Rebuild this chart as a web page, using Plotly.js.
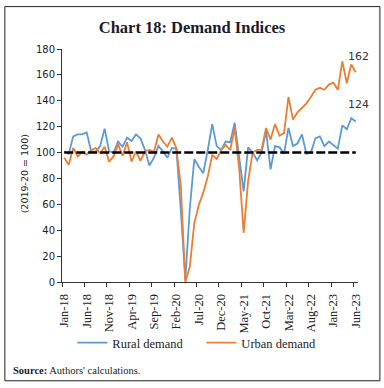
<!DOCTYPE html>
<html>
<head>
<meta charset="utf-8">
<script src="https://cdn.plot.ly/plotly-3.0.1.min.js"></script>
<style>html,body{margin:0;padding:0;background:#fff;}#chart{width:384px;height:388px;}</style>
</head>
<body>
<div id="chart"></div>
<script>
// Months Jan-18 .. Jun-23 (66 months)
const months = [
 "Jan-18","Feb-18","Mar-18","Apr-18","May-18","Jun-18","Jul-18","Aug-18","Sep-18","Oct-18","Nov-18","Dec-18",
 "Jan-19","Feb-19","Mar-19","Apr-19","May-19","Jun-19","Jul-19","Aug-19","Sep-19","Oct-19","Nov-19","Dec-19",
 "Jan-20","Feb-20","Mar-20","Apr-20","May-20","Jun-20","Jul-20","Aug-20","Sep-20","Oct-20","Nov-20","Dec-20",
 "Jan-21","Feb-21","Mar-21","Apr-21","May-21","Jun-21","Jul-21","Aug-21","Sep-21","Oct-21","Nov-21","Dec-21",
 "Jan-22","Feb-22","Mar-22","Apr-22","May-22","Jun-22","Jul-22","Aug-22","Sep-22","Oct-22","Nov-22","Dec-22",
 "Jan-23","Feb-23","Mar-23","Apr-23","May-23","Jun-23"];

const rural = [
 101, 99, 112.5, 114, 114, 115.5, 101, 100.5, 105, 118.5, 101, 100,
 108.5, 104.5, 111.5, 109, 114, 111, 102, 90, 96, 105, 101, 96,
 103.5, 103, 55, 2, 57, 95, 89, 84, 102, 122, 105, 102,
 108.5, 108, 123, 97, 70, 104, 100, 94, 100, 117, 87, 105,
 104, 99, 119, 105, 107, 114, 99, 100, 111, 112.5, 105, 108.5,
 106, 103, 121, 118, 126.5, 124];

const urban = [
 96, 90.5, 103.5, 97, 100.5, 98.5, 102, 103.5, 99.5, 104.5, 93, 97,
 106.5, 97.5, 108, 93, 101, 93.5, 101, 102, 100.5, 114, 108.5, 104.5,
 111.5, 103.5, 74, 0, 12, 45.5, 59.5, 69, 81.5, 98, 95, 102,
 106, 102, 119, 88, 38, 78, 100, 102, 102, 119, 110, 122,
 113, 115, 143, 125.5, 131, 134.5, 138, 143, 148.5, 150, 148.5, 152.5,
 154, 148.5, 170.5, 153.5, 168, 162];

const baseline = months.map(() => 100);

const yTicks = [0,20,40,60,80,100,120,140,160,180];
const labelIdx = [0,5,10,15,20,25,30,35,40,45,50,55,60,65];
const lastRural = rural[rural.length-1];
const lastUrban = urban[urban.length-1];

const idx = months.map((_, i) => i);

const traces = [
 {x: idx, y: rural, type: 'scatter', mode: 'lines', name: 'Rural demand',
  line: {color: '#5B9BD5', width: 1.8}, hoverinfo: 'skip'},
 {x: idx, y: urban, type: 'scatter', mode: 'lines', name: 'Urban demand',
  line: {color: '#ED7D31', width: 1.8}, hoverinfo: 'skip'},
 {x: idx, y: baseline, type: 'scatter', mode: 'lines', showlegend: false,
  line: {color: '#000000', width: 2.5, dash: '9px,3px'}, hoverinfo: 'skip'}
];

const serif = 'Liberation Serif, DejaVu Serif, serif';
const sans = 'DejaVu Sans, Verdana, sans-serif';

const layout = {
 width: 384, height: 388,
 margin: {l: 62, r: 26, t: 49, b: 106, pad: 0},
 paper_bgcolor: '#ffffff', plot_bgcolor: '#ffffff',
 title: {text: '<b>Chart 18: Demand Indices</b>', font: {family: serif, size: 16.5, color: '#1a1a2a'},
   x: 0.5, xanchor: 'center', y: 0.930, yanchor: 'middle', xref: 'container', yref: 'container'},
 showlegend: true,
 legend: {orientation: 'h', x: 0.035, xanchor: 'left', y: -0.262, yanchor: 'middle',
   font: {family: serif, size: 12.5, color: '#222'}, itemwidth: 30, entrywidth: 84, entrywidthmode: 'pixels',
   tracegroupgap: 0, bgcolor: 'rgba(0,0,0,0)'},
 xaxis: {
   range: [-0.5, 65.5], showgrid: false, zeroline: false,
   showline: true, linecolor: '#333', linewidth: 1,
   tickmode: 'array', tickvals: labelIdx, ticktext: labelIdx.map(i => months[i]),
   ticks: '', tickangle: -90, ticklabelstandoff: 6,
   tickfont: {family: serif, size: 12.5, color: '#222'},
   minor: {tickmode: 'array', tickvals: labelIdx.map(i => i - 0.5), ticks: 'outside', ticklen: 4,
           tickcolor: '#333', tickwidth: 1, showgrid: false}
 },
 yaxis: {
   range: [0, 180], tickmode: 'array', tickvals: yTicks, showgrid: false, zeroline: false,
   showline: true, linecolor: '#333', linewidth: 1,
   ticks: 'outside', ticklen: 4, tickcolor: '#333',
   tickfont: {family: sans, size: 10, color: '#222'}
 },
 shapes: [
   {type: 'rect', xref: 'paper', yref: 'paper', x0: -0.193, x1: 1.074, y0: -0.424, y1: 1.182,
    line: {color: '#222', width: 1}, fillcolor: 'rgba(0,0,0,0)', layer: 'below'}
 ],
 annotations: [
   {x: 65, y: 174, xref: 'x', yref: 'y', xshift: 3, text: String(lastUrban), showarrow: false,
    font: {family: sans, size: 11, color: '#333'}, xanchor: 'center', yanchor: 'middle'},
   {x: 65, y: 137, xref: 'x', yref: 'y', xshift: 3, text: String(lastRural), showarrow: false,
    font: {family: sans, size: 11, color: '#333'}, xanchor: 'center', yanchor: 'middle'},
   {x: -0.126, y: 0.465, xref: 'paper', yref: 'paper', text: '(2019-20 = 100)', textangle: -90,
    showarrow: false, xanchor: 'center', yanchor: 'middle',
    font: {family: sans, size: 9.5, color: '#222'}},
   {x: -0.171, y: -0.381, xref: 'paper', yref: 'paper', text: "<b>Source:</b> Authors' calculations.",
    showarrow: false, xanchor: 'left', yanchor: 'middle',
    font: {family: serif, size: 10.5, color: '#222'}}
 ]
};

Plotly.newPlot('chart', traces, layout, {staticPlot: true, displayModeBar: false});
</script>
</body>
</html>
